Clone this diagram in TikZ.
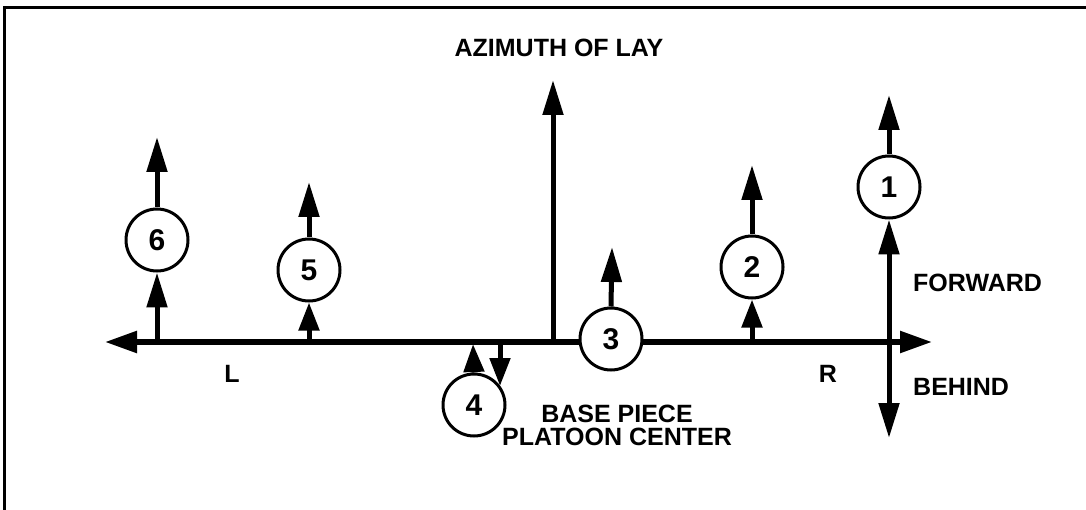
\documentclass[tikz,border=0pt]{standalone}
\usepackage{fontspec}
\setmainfont{Liberation Sans}
\usetikzlibrary{arrows.meta}
\begin{document}
\begin{tikzpicture}[x=1pt,y=-1pt,
  gun/.style={circle,draw,line width=3pt,fill=white,minimum size=62pt,inner sep=0pt,font=\fontsize{30}{30}\selectfont\bfseries},
  arr/.style={line width=5pt,-{Triangle[length=35pt,width=20pt]}},
  shortarr/.style={line width=5pt,-{Triangle[length=28pt,width=20pt]}},
  dblarr/.style={line width=5pt,{Triangle[length=35pt,width=20pt]}-{Triangle[length=35pt,width=20pt]}},
  lbl/.style={font=\fontsize{25}{23}\selectfont\bfseries,inner sep=0pt}]
\useasboundingbox (0,0) rectangle (1086,510);
% frame
\draw[line width=3.5pt] (4.5,510) -- (4.5,7.5) -- (1086,7.5);
% named points
\coordinate (Lend) at (105,342);
\coordinate (Rend) at (932,342);
\coordinate (azbase) at (553,342);
\coordinate (aztip) at (553,80);
\coordinate (b6) at (157,342);
\coordinate (t6) at (157,137);
\coordinate (b5) at (309,342);
\coordinate (t5) at (309,182);
\coordinate (t3) at (612,247);
\coordinate (b2) at (752,342);
\coordinate (t2) at (752,165);
\coordinate (t1) at (889,95);
\coordinate (bot1) at (889,438);
\coordinate (d4a) at (500,345);
\coordinate (d4b) at (500,386);
\coordinate (u4) at (473,344);
% main line
\draw[line width=5.5pt,{Triangle[length=32pt,width=21pt]}-{Triangle[length=32pt,width=21pt]}] (Lend) -- (Rend);
\draw[arr] (azbase) -- (aztip);
% guns
\node[gun] (c6) at (157,240) {6};
\node[gun] (c5) at (309,270) {5};
\node[gun] (c4) at (474,405) {4};
\node[gun] (c3) at (611,339) {3};
\node[gun] (c2) at (752,267) {2};
\node[gun] (c1) at (889,187) {1};
\draw[arr] (b6) -- (c6.south);
\draw[arr] (c6.north) -- (t6);
\draw[shortarr] (b5) -- (c5.south);
\draw[arr] (c5.north) -- (t5);
\draw[shortarr] (c4.north) -- (u4);
\draw[shortarr] (d4a) -- (d4b);
\draw[arr] (c3.north) -- (t3);
\draw[shortarr] (b2) -- (c2.south);
\draw[arr] (c2.north) -- (t2);
\draw[arr] (c1.north) -- (t1);
\draw[dblarr] (c1.south) -- (bot1);
% labels
\node[lbl] (az) at (559,48) {AZIMUTH OF LAY};
\node[lbl] (L) at (232,374) {L};
\node[lbl] (R) at (828,374) {R};
\node[lbl,anchor=west] (fw) at (913,283) {FORWARD};
\node[lbl,anchor=west] (bh) at (913,387) {BEHIND};
\node[lbl,align=center] (base) at (617,425) {BASE PIECE\\PLATOON CENTER};
\end{tikzpicture}
\end{document}
